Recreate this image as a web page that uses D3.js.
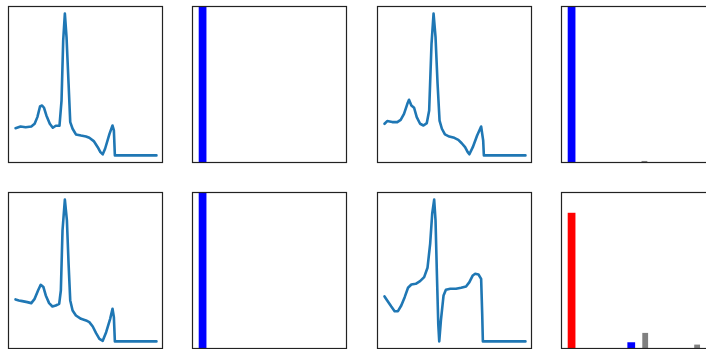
<!DOCTYPE html>
<html>
<head>
<meta charset="utf-8">
<script src="https://cdn.jsdelivr.net/npm/d3@7"></script>
<style>
  html, body { margin: 0; padding: 0; background: #fff; }
  svg { display: block; }
</style>
</head>
<body>
<svg id="chart" width="706" height="349"></svg>
<script>
// ── Data ──────────────────────────────────────────────────────────────────
// beats: sample index → normalised amplitude
const beat1Idx = [0, 6.6, 13.3, 20.8, 25.2, 28.8, 32.3, 35, 37.6, 40.7, 45.2, 49.2, 53.1, 58, 60.7, 62.9, 65.1, 67.3, 70, 72.2, 75.3, 79.7, 86.4, 93, 97.4, 103.2, 108.5, 112, 115.1, 118.2, 124, 128, 129.8, 131.1, 186];
const beat1Val = [0.192, 0.204, 0.199, 0.204, 0.223, 0.270, 0.345, 0.352, 0.336, 0.282, 0.223, 0.195, 0.209, 0.209, 0.387, 0.810, 1.0, 0.834, 0.505, 0.235, 0.188, 0.148, 0.140, 0.133, 0.124, 0.101, 0.058, 0.023, 0.008, 0.047, 0.152, 0.211, 0.176, 0, 0];

const beat2Idx = [0, 3.5, 10.2, 16.8, 21.3, 25.7, 30.1, 32.3, 35.4, 39, 42.5, 46.9, 51.4, 55.8, 58.9, 62, 64.7, 67.3, 70, 72.6, 75.7, 79.7, 85.5, 92.1, 97.4, 101.9, 106.3, 109.8, 112, 116.5, 122.2, 127.5, 130.2, 131.1, 186];
const beat2Val = [0.223, 0.242, 0.235, 0.235, 0.251, 0.293, 0.364, 0.392, 0.352, 0.336, 0.270, 0.223, 0.211, 0.228, 0.317, 0.787, 1.0, 0.834, 0.505, 0.246, 0.188, 0.148, 0.133, 0.124, 0.110, 0.086, 0.058, 0.023, 0.008, 0.058, 0.140, 0.204, 0.105, 0, 0];

const beat3Idx = [0, 4.4, 8.9, 15.5, 20.8, 25.2, 29.7, 33.2, 36.8, 39.9, 44.3, 48.7, 53.1, 57.6, 59.8, 62, 65.1, 67.8, 70, 72.2, 75.3, 79.7, 86.4, 93, 97.4, 101.9, 106.3, 110.7, 115.1, 119.6, 124.9, 128, 129.8, 131.1, 186];
const beat3Val = [0.296, 0.289, 0.284, 0.277, 0.270, 0.300, 0.359, 0.399, 0.383, 0.324, 0.270, 0.246, 0.253, 0.265, 0.359, 0.782, 1.0, 0.853, 0.547, 0.289, 0.218, 0.183, 0.159, 0.148, 0.136, 0.105, 0.058, 0.018, 0.004, 0.065, 0.159, 0.230, 0.171, 0, 0];

const beat4Idx = [0, 3.5, 8.9, 13.3, 17.7, 22.1, 26.6, 31, 35.4, 41.2, 46.9, 52.3, 56.7, 60.2, 62.9, 65.5, 67.3, 69.1, 70.9, 72.2, 74.4, 77.9, 81, 86.8, 94.3, 101, 107.6, 112, 116.5, 119.6, 124, 127.5, 128.9, 129.8, 186];
const beat4Val = [0.317, 0.289, 0.246, 0.213, 0.213, 0.253, 0.312, 0.378, 0.401, 0.406, 0.425, 0.453, 0.519, 0.688, 0.900, 1.0, 0.853, 0.477, 0.124, 0.0, 0.148, 0.324, 0.364, 0.371, 0.371, 0.378, 0.387, 0.418, 0.465, 0.477, 0.472, 0.441, 0.195, 0, 0];

// bar panels: position, height, kind
const bars1X = [1.3];
const bars1H = [1.0];
const bars1K = ['pos'];

const bars2X = [1.3, 10.7];
const bars2H = [1.0, 0.01];
const bars2K = ['pos', 'other'];

const bars3X = [1.3];
const bars3H = [1.0];
const bars3K = ['pos'];

const bars4X = [1.3, 9.0, 10.8, 17.5];
const bars4H = [0.87, 0.04, 0.10, 0.025];
const bars4K = ['neg', 'pos', 'other', 'other'];

// ── Layout ────────────────────────────────────────────────────────────────
const COLS = [8, 192, 377, 561];
const ROWS = [6, 192];
const PW = 155, PH = 156;
const LINE_COLOR = '#1f77b4';
const KIND_COLOR = { pos: '#0000ff', neg: '#ff0000', other: '#808080' };
const KIND_W = { pos: 1.0, neg: 1.0, other: 0.75 };

const panels = [
  { col: 0, row: 0, type: 'line', idx: beat1Idx, val: beat1Val },
  { col: 1, row: 0, type: 'bar', x: bars1X, h: bars1H, k: bars1K },
  { col: 2, row: 0, type: 'line', idx: beat2Idx, val: beat2Val },
  { col: 3, row: 0, type: 'bar', x: bars2X, h: bars2H, k: bars2K },
  { col: 0, row: 1, type: 'line', idx: beat3Idx, val: beat3Val },
  { col: 1, row: 1, type: 'bar', x: bars3X, h: bars3H, k: bars3K },
  { col: 2, row: 1, type: 'line', idx: beat4Idx, val: beat4Val },
  { col: 3, row: 1, type: 'bar', x: bars4X, h: bars4H, k: bars4K },
];

const svg = d3.select('#chart');

// line panels use matplotlib-like 5% margins
const lx = d3.scaleLinear().domain([-9.3, 195.3]).range([0, PW]);
const ly = d3.scaleLinear().domain([-0.05, 1.05]).range([PH, 0]);
const bx = d3.scaleLinear().domain([0, 20]).range([0, PW]);
const by = d3.scaleLinear().domain([0, 1]).range([PH, 0]);

panels.forEach(p => {
  const g = svg.append('g')
    .attr('transform', `translate(${COLS[p.col] + 0.5},${ROWS[p.row] + 0.5})`);

  if (p.type === 'line') {
    const pts = p.idx.map((d, i) => [d, p.val[i]]);
    g.append('path')
      .datum(pts)
      .attr('fill', 'none')
      .attr('stroke', LINE_COLOR)
      .attr('stroke-width', 2.6)
      .attr('stroke-linejoin', 'round')
      .attr('stroke-linecap', 'round')
      .attr('d', d3.line().x(d => lx(d[0])).y(d => ly(d[1])));
  } else {
    const rows = p.x.map((x, i) => ({ x, h: p.h[i], k: p.k[i] }));
    g.selectAll('rect').data(rows).join('rect')
      .attr('x', d => bx(d.x - KIND_W[d.k] / 2))
      .attr('width', d => bx(KIND_W[d.k]) - bx(0))
      .attr('y', d => by(d.h))
      .attr('height', d => by(0) - by(d.h))
      .attr('fill', d => KIND_COLOR[d.k]);
  }

  g.append('rect')
    .attr('width', PW - 1).attr('height', PH)
    .attr('fill', 'none')
    .attr('stroke', '#222')
    .attr('stroke-width', 1.2);
});
</script>
</body>
</html>
